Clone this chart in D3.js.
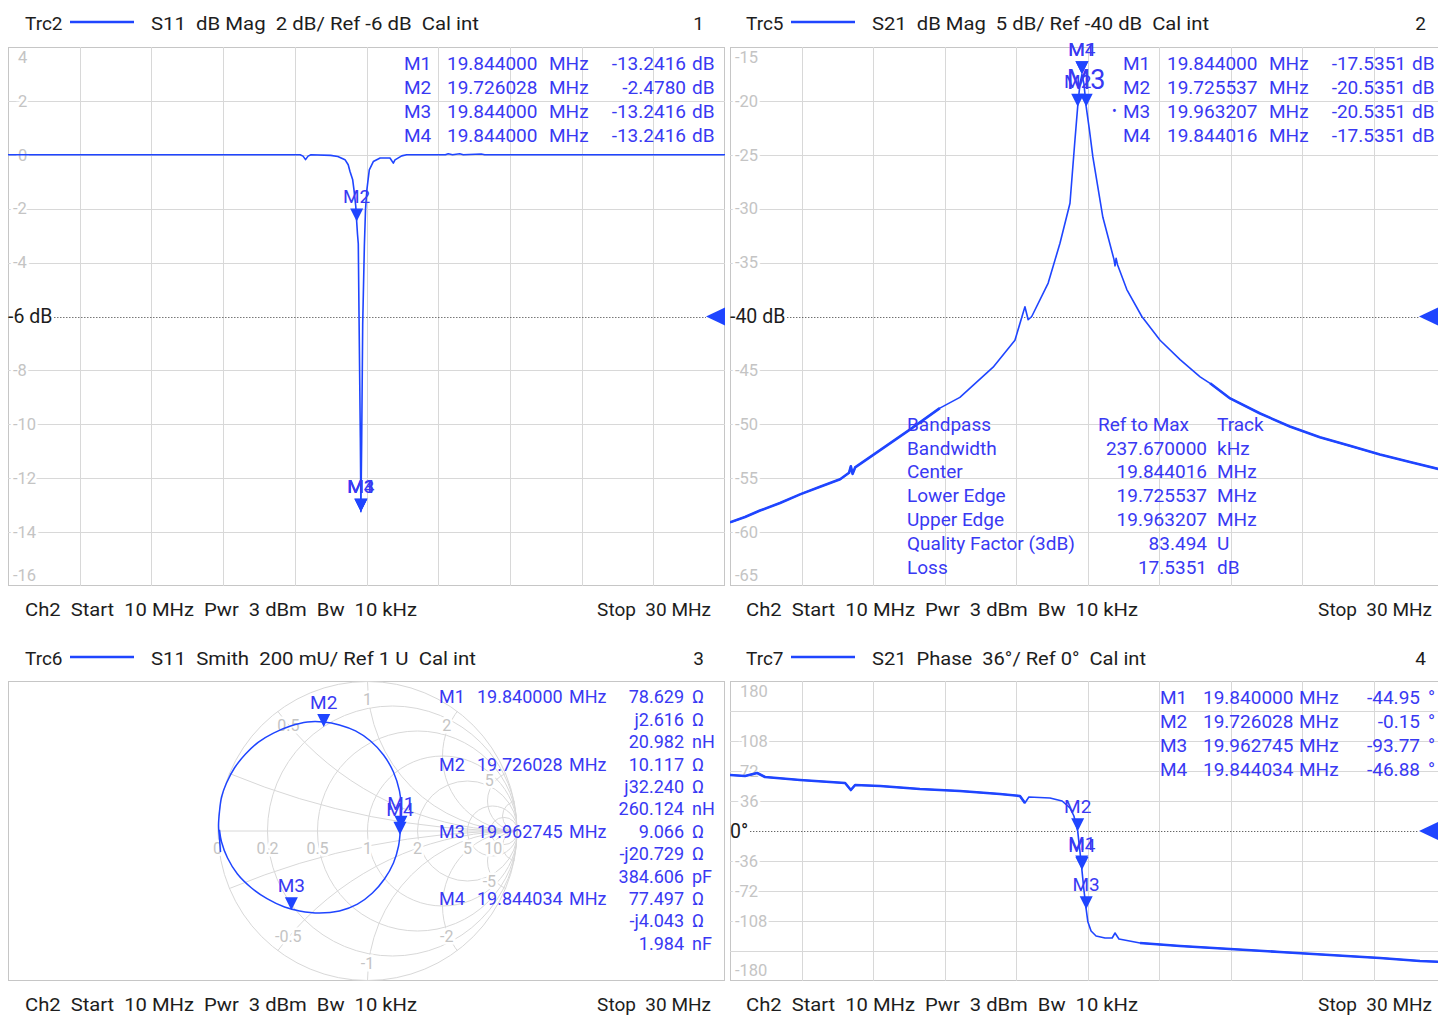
<!DOCTYPE html>
<html>
<head>
<meta charset="utf-8">
<script src="https://cdn.jsdelivr.net/npm/d3@7"></script>
<style>
  body { margin: 0; background: #fff; }
  svg { display: block; }
  text { font-family: Roboto, "Noto Sans", Arial, sans-serif; white-space: pre; }
</style>
</head>
<body>
<svg id="screen" width="1438" height="1016"></svg>
<script>
// ---------------- data ----------------
const sweepStart = 10, sweepStop = 30;               // MHz
const freqGrid = [12, 14, 16, 18, 20, 22, 24, 26, 28];

// Trc2: S11 dB Mag  [MHz, dB]
const s11Trace = [
  [10, 0], [12, 0], [14, 0], [16, 0], [18, 0], [18.15, 0], [18.23, -0.05], [18.30, -0.18], [18.37, -0.05],
  [18.45, 0], [19.00, -0.02], [19.20, -0.06], [19.40, -0.18], [19.49, -0.37], [19.54, -0.62], [19.615, -0.93],
  [19.651, -1.30], [19.700, -1.90], [19.726028, -2.478], [19.749, -2.95], [19.771, -3.30], [19.791, -5.90],
  [19.828, -10.5], [19.844, -13.2416], [19.866, -10.6], [19.894, -6.30], [19.940, -3.40], [19.972, -2.05],
  [20.010, -1.30], [20.078, -0.56], [20.19, -0.25], [20.38, -0.12], [20.655, -0.12], [20.748, -0.31],
  [20.795, -0.19], [20.982, -0.04], [21.12, 0], [22.2, 0], [22.28, 0.04], [22.4, 0], [22.6, 0.04],
  [22.7, 0], [23.2, 0.03], [23.3, 0], [26, 0], [30, 0]
];
const s11Ticks = [4, 2, 0, -2, -4, -8, -10, -12, -14, -16];

// Trc5: S21 dB Mag  [MHz, dB]
const s21Trace = [
  [10, -59.1], [10.42, -58.6], [10.84, -58.0], [11.40, -57.3], [11.96, -56.5], [12.52, -55.8], [13.08, -55.1],
  [13.33, -54.5], [13.38, -53.9], [13.43, -54.6], [13.50, -54.0], [14.20, -52.4], [15.03, -50.5], [15.87, -48.5],
  [16.43, -47.5], [17.36, -44.7], [17.97, -42.2], [18.25, -39.1], [18.34, -40.3], [18.44, -40.0], [18.90, -36.9],
  [19.23, -33.2], [19.51, -29.5], [19.64, -24.0], [19.725537, -20.5351], [19.79, -18.4], [19.844, -17.5351],
  [19.90, -18.4], [19.963207, -20.5351], [20.05, -22.6], [20.15, -25.2], [20.43, -30.8], [20.74, -34.7],
  [20.77, -35.3], [20.80, -34.6], [20.84, -35.2], [21.10, -37.5], [21.52, -40.0], [22.03, -42.2], [22.59, -44.0],
  [23.15, -45.6], [23.43, -46.2], [23.99, -47.6], [24.83, -49.0], [25.66, -50.2], [26.50, -51.2], [27.34, -52.0],
  [28.18, -52.8], [29.02, -53.5], [30, -54.3]
];
const s21Ticks = [-15, -20, -25, -30, -35, -45, -50, -55, -60, -65];

// Trc6: S11 Smith, reflection coefficient [re, im]
const smithTrace = [
  [-0.980, -0.140], [-0.987, -0.047], [-0.993, 0.033], [-0.987, 0.127], [-0.973, 0.227], [-0.940, 0.320],
  [-0.887, 0.420], [-0.813, 0.513], [-0.727, 0.593], [-0.627, 0.653], [-0.513, 0.700], [-0.400, 0.727],
  [-0.293, 0.727], [-0.187, 0.707], [-0.080, 0.667], [0.020, 0.600], [0.107, 0.507], [0.173, 0.393],
  [0.213, 0.267], [0.227, 0.140], [0.220, 0.020], [0.207, -0.100], [0.173, -0.213], [0.113, -0.320],
  [0.033, -0.413], [-0.067, -0.487], [-0.187, -0.533], [-0.320, -0.547], [-0.453, -0.533], [-0.553, -0.507],
  [-0.667, -0.453], [-0.773, -0.380], [-0.867, -0.287], [-0.933, -0.180], [-0.973, -0.073], [-0.987, 0.007]
];
const smithResistance = [0.2, 0.5, 1, 2, 5, 10];
const smithReactance = [0.2, 0.5, 1, 2, 5, 10];
const smithRLabels = ['0', '0.2', '0.5', '1', '2', '5', '10'];
const smithXLabels = [0.5, 1, 2, 5, -0.5, -1, -2, -5];

// Trc7: S21 Phase  [MHz, deg]
const phaseTrace = [
  [10, 67.2], [10.42, 66.0], [10.76, 69.6], [10.98, 64.8], [11.96, 61.2], [13.22, 57.6], [13.38, 49.2],
  [13.50, 55.2], [14.20, 54.0], [15.31, 50.4], [16.43, 48.0], [17.55, 44.4], [18.11, 42.0], [18.25, 33.6],
  [18.36, 40.8], [18.95, 39.6], [19.29, 36.0], [19.51, 27.6], [19.62, 18.0], [19.726028, -0.15],
  [19.79, -25.2], [19.84, -44.95], [19.844034, -46.88], [19.90, -70.8], [19.962745, -93.77], [20.01, -109],
  [20.10, -120], [20.24, -126], [20.49, -128.4], [20.69, -128.4], [20.77, -122.4], [20.88, -129.6],
  [21.47, -134.4], [22.59, -138], [23.99, -141.6], [25.38, -145.2], [26.78, -148.8], [28.18, -152.4],
  [29.30, -156], [30, -157.2]
];
const phaseGrid = [144, 108, 72, 36, -36, -72, -108, -144];
const phaseTicks = [180, 108, 72, 36, -36, -72, -108, -180];

// Frequency spans where the measured traces are visibly noisy (drawn thicker)
const s21NoisySpans = [[10, 16.2], [23.2, 30]];
const phaseNoisySpans = [[10, 18.3], [21.3, 30]];

// Marker readouts
const s11Markers = [
  { name: 'M1', freq: 19.844000, val: -13.2416 },
  { name: 'M2', freq: 19.726028, val: -2.4780 },
  { name: 'M3', freq: 19.844000, val: -13.2416 },
  { name: 'M4', freq: 19.844000, val: -13.2416 }
];
const s21Markers = [
  { name: 'M1', freq: 19.844000, val: -17.5351 },
  { name: 'M2', freq: 19.725537, val: -20.5351 },
  { name: 'M3', freq: 19.963207, val: -20.5351, active: true },
  { name: 'M4', freq: 19.844016, val: -17.5351 }
];
const smithMarkers = [
  { name: 'M1', freq: 19.840000, r: 78.629, x: 2.616, eq: '20.982', eqUnit: 'nH' },
  { name: 'M2', freq: 19.726028, r: 10.117, x: 32.240, eq: '260.124', eqUnit: 'nH' },
  { name: 'M3', freq: 19.962745, r: 9.066, x: -20.729, eq: '384.606', eqUnit: 'pF' },
  { name: 'M4', freq: 19.844034, r: 77.497, x: -4.043, eq: '1.984', eqUnit: 'nF' }
];
const phaseMarkers = [
  { name: 'M1', freq: 19.840000, val: -44.95 },
  { name: 'M2', freq: 19.726028, val: -0.15 },
  { name: 'M3', freq: 19.962745, val: -93.77 },
  { name: 'M4', freq: 19.844034, val: -46.88 }
];
const bandpassRows = [
  ['Bandwidth', '237.670000', 'kHz'],
  ['Center', '19.844016', 'MHz'],
  ['Lower Edge', '19.725537', 'MHz'],
  ['Upper Edge', '19.963207', 'MHz'],
  ['Quality Factor (3dB)', '83.494', 'U'],
  ['Loss', '17.5351', 'dB']
];
const Z0 = 50;

// ---------------- style ----------------
const TRACE = '#1f45ff';
const MARK = '#3939f3';
const GRID = '#d8d8d8';
const BORDER = '#c6c6c6';
const TICK = '#c4c4c4';
const INK = '#1d1d1d';

const svg = d3.select('#screen');
const defs = svg.append('defs');

function txt(g, x, y, s, o = {}) {
  const t = g.append('text')
    .attr('x', x).attr('y', y).attr('dy', '0.35em')
    .attr('font-size', o.size || 19)
    .attr('fill', o.fill || INK)
    .attr('text-anchor', o.anchor || 'start')
    .text(s);
  if (o.width) {
    const w = t.node().getComputedTextLength();
    if (Math.abs(w - o.width) > 1) t.attr('textLength', o.width).attr('lengthAdjust', 'spacingAndGlyphs');
  }
  if (o.halo) t.attr('stroke', '#fff').attr('stroke-width', 5).attr('paint-order', 'stroke');
  return t;
}

function markerGlyph(g, px, py, name, big) {
  g.append('path')
    .attr('d', d3.line()([[px - 6.5, py - 13], [px + 6.5, py - 13], [px, py]]) + 'Z')
    .attr('fill', TRACE);
  txt(g, px, py - 25 - (big ? 2 : 0), name, { size: big ? 27 : 19, fill: MARK, anchor: 'middle' });
}

function header(y, x0, trc, desc, descW, num, numX) {
  const g = svg.append('g');
  txt(g, x0 + 17, y, trc, { size: 19, width: 37 });
  g.append('line').attr('x1', x0 + 62).attr('x2', x0 + 126).attr('y1', y - 1).attr('y2', y - 1)
    .attr('stroke', TRACE).attr('stroke-width', 2.5);
  txt(g, x0 + 143, y, desc, { size: 19, width: descW });
  txt(g, numX, y, num, { size: 19, anchor: 'end' });
}

function footer(y, x0, stopX) {
  const g = svg.append('g');
  txt(g, x0 + 17, y, 'Ch2  Start  10 MHz  Pwr  3 dBm  Bw  10 kHz', { size: 19, width: 392 });
  txt(g, stopX, y, 'Stop  30 MHz', { size: 19, anchor: 'end' });
}

// Cartesian trace diagram with grid, reference line and tick labels
function cartesian(box, id, yDomain, gridVals, tickVals, refVal, refText, refTriX, data, noisy) {
  const g = svg.append('g');
  const x = d3.scaleLinear().domain([sweepStart, sweepStop]).range([box.x0, box.x1]);
  const y = d3.scaleLinear().domain(yDomain).range([box.y1, box.y0]);

  defs.append('clipPath').attr('id', id)
    .append('rect').attr('x', box.x0).attr('y', box.y0)
    .attr('width', box.x1 - box.x0).attr('height', box.y1 - box.y0);

  g.append('rect').attr('x', box.x0 + 0.5).attr('y', box.y0 + 0.5)
    .attr('width', box.x1 - box.x0 - 1).attr('height', box.y1 - box.y0 - 1)
    .attr('fill', '#fff').attr('stroke', BORDER);

  g.selectAll('.vg').data(freqGrid).join('line')
    .attr('x1', d => Math.round(x(d)) + 0.5).attr('x2', d => Math.round(x(d)) + 0.5)
    .attr('y1', box.y0).attr('y2', box.y1).attr('stroke', GRID);
  g.selectAll('.hg').data(gridVals).join('line')
    .attr('x1', box.x0).attr('x2', box.x1)
    .attr('y1', d => Math.round(y(d)) + 0.5).attr('y2', d => Math.round(y(d)) + 0.5)
    .attr('stroke', GRID);

  tickVals.forEach(v => {
    let ty = y(v);
    if (v === yDomain[1]) ty = box.y0 + 10;
    if (v === yDomain[0]) ty = box.y1 - 11;
    txt(g, box.x0 + (v < 0 ? 5 : 10), ty, String(v), { size: 16.5, fill: TICK, halo: true });
  });

  // reference level
  const ry = Math.round(y(refVal)) + 0.5;
  const rt = txt(g, box.x0, y(refVal), refText, { size: 19.5, fill: INK });
  const rw = rt.node().getComputedTextLength();
  g.append('line').attr('x1', box.x0 + rw + 2).attr('x2', refTriX - 19)
    .attr('y1', ry).attr('y2', ry)
    .attr('stroke', '#333').attr('stroke-dasharray', '1,2');
  g.append('path')
    .attr('d', d3.line()([[refTriX - 19, y(refVal)], [refTriX, y(refVal) - 9], [refTriX, y(refVal) + 9]]) + 'Z')
    .attr('fill', TRACE);

  const line = d3.line().x(d => x(d[0])).y(d => y(d[1]));
  const tg = g.append('g').attr('clip-path', `url(#${id})`)
    .attr('fill', 'none').attr('stroke', TRACE).attr('stroke-linejoin', 'round');
  tg.append('path').datum(data).attr('d', line).attr('stroke-width', 1.6);
  (noisy || []).forEach(span => {
    tg.append('path').datum(data.filter(d => d[0] >= span[0] && d[0] <= span[1]))
      .attr('d', line).attr('stroke-width', 2.6);
  });

  return { g, x, y };
}

// ---------------- layout ----------------
const p1 = { x0: 8, x1: 725, y0: 47, y1: 586 };
const p2 = { x0: 730, x1: 1445, y0: 47, y1: 586 };
const p3 = { x0: 8, x1: 725, y0: 681, y1: 981 };
const p4 = { x0: 730, x1: 1445, y0: 681, y1: 981 };

header(23, 8, 'Trc2', 'S11  dB Mag  2 dB/ Ref -6 dB  Cal int', 328, '1', 704);
header(23, 729, 'Trc5', 'S21  dB Mag  5 dB/ Ref -40 dB  Cal int', 337, '2', 1426);
header(658, 8, 'Trc6', 'S11  Smith  200 mU/ Ref 1 U  Cal int', 325, '3', 704);
header(658, 729, 'Trc7', 'S21  Phase  36°/ Ref 0°  Cal int', 274, '4', 1426);
footer(609, 8, 711);
footer(609, 729, 1432);
footer(1004, 8, 711);
footer(1004, 729, 1432);

// ---- Trc2 : S11 dB Mag ----
const c1 = cartesian(p1, 'clip1', [-16, 4], [2, 0, -2, -4, -8, -10, -12, -14],
  s11Ticks, -6, '-6 dB', 725, s11Trace);
s11Markers.forEach(m => markerGlyph(c1.g, c1.x(m.freq), c1.y(m.val), m.name, false));
s11Markers.forEach((m, i) => {
  const ty = 63 + i * 24;
  txt(c1.g, 404, ty, m.name, { fill: MARK });
  txt(c1.g, 447, ty, m.freq.toFixed(6), { fill: MARK });
  txt(c1.g, 549, ty, 'MHz', { fill: MARK });
  txt(c1.g, 686, ty, m.val.toFixed(4), { fill: MARK, anchor: 'end' });
  txt(c1.g, 692, ty, 'dB', { fill: MARK });
});

// ---- Trc5 : S21 dB Mag ----
const c2 = cartesian(p2, 'clip2', [-65, -15], [-20, -25, -30, -35, -45, -50, -55, -60],
  s21Ticks, -40, '-40 dB', 1438, s21Trace, s21NoisySpans);
[1, 3, 0, 2].forEach(i => {
  const m = s21Markers[i];
  markerGlyph(c2.g, c2.x(m.freq), c2.y(m.val), m.name, !!m.active);
});
s21Markers.forEach((m, i) => {
  const ty = 63 + i * 24;
  if (m.active) txt(c2.g, 1112, ty, '•', { fill: MARK, size: 14 });
  txt(c2.g, 1123, ty, m.name, { fill: MARK });
  txt(c2.g, 1167, ty, m.freq.toFixed(6), { fill: MARK });
  txt(c2.g, 1269, ty, 'MHz', { fill: MARK });
  txt(c2.g, 1406, ty, m.val.toFixed(4), { fill: MARK, anchor: 'end' });
  txt(c2.g, 1412, ty, 'dB', { fill: MARK });
});
// bandpass search result
txt(c2.g, 907, 424, 'Bandpass', { fill: MARK });
txt(c2.g, 1098, 424, 'Ref to Max', { fill: MARK });
txt(c2.g, 1217, 424, 'Track', { fill: MARK });
bandpassRows.forEach((r, i) => {
  const ty = 448 + i * 23.8;
  txt(c2.g, 907, ty, r[0], { fill: MARK });
  txt(c2.g, 1207, ty, r[1], { fill: MARK, anchor: 'end' });
  txt(c2.g, 1217, ty, r[2], { fill: MARK });
});

// ---- Trc6 : S11 Smith ----
{
  const g = svg.append('g');
  g.append('rect').attr('x', p3.x0 + 0.5).attr('y', p3.y0 + 0.5)
    .attr('width', p3.x1 - p3.x0 - 1).attr('height', p3.y1 - p3.y0 - 1)
    .attr('fill', '#fff').attr('stroke', BORDER);
  const R = (p3.y1 - p3.y0) / 2;
  const cx = 367.5, cy = (p3.y0 + p3.y1) / 2;
  const sx = d3.scaleLinear().domain([-1, 1]).range([cx - R, cx + R]);
  const sy = d3.scaleLinear().domain([-1, 1]).range([cy + R, cy - R]);
  defs.append('clipPath').attr('id', 'unit')
    .append('circle').attr('cx', cx).attr('cy', cy).attr('r', R);

  const grid = g.append('g').attr('clip-path', 'url(#unit)')
    .attr('fill', 'none').attr('stroke', GRID);
  grid.selectAll('.rc').data(smithResistance).join('circle')
    .attr('cx', r => sx(r / (1 + r))).attr('cy', sy(0))
    .attr('r', r => sx(1 / (1 + r)) - sx(0));
  grid.selectAll('.xc').data(smithReactance.flatMap(v => [v, -v])).join('circle')
    .attr('cx', sx(1)).attr('cy', v => sy(1 / v))
    .attr('r', v => Math.abs(sx(1 / v) - sx(0)));
  grid.append('line').attr('x1', sx(-1)).attr('x2', sx(1))
    .attr('y1', sy(0)).attr('y2', sy(0));
  g.append('circle').attr('cx', cx).attr('cy', cy).attr('r', R - 0.5)
    .attr('fill', 'none').attr('stroke', GRID);

  smithRLabels.forEach(s => {
    const r = +s;
    txt(g, sx((r - 1) / (r + 1)) + (r === 10 ? 3 : 0), sy(0) + 17, s,
      { size: 16, fill: TICK, anchor: 'middle', halo: true });
  });
  smithXLabels.forEach(v => {
    const gx = (v * v - 1) / (v * v + 1), gy = 2 * v / (v * v + 1);
    txt(g, sx(0.88 * gx), sy(0.88 * gy), String(v), { size: 16, fill: TICK, anchor: 'middle', halo: true });
  });

  g.append('path').datum(smithTrace)
    .attr('d', d3.line().x(d => sx(d[0])).y(d => sy(d[1])).curve(d3.curveCatmullRom))
    .attr('fill', 'none').attr('stroke', TRACE).attr('stroke-width', 1.5);

  const gamma = m => {
    const zr = m.r / Z0, zi = m.x / Z0;
    const nr = zr - 1, ni = zi, dr = zr + 1, di = zi, den = dr * dr + di * di;
    return [(nr * dr + ni * di) / den, (ni * dr - nr * di) / den];
  };
  [1, 2, 0, 3].forEach(i => {
    const m = smithMarkers[i], gm = gamma(m);
    markerGlyph(g, sx(gm[0]), sy(gm[1]), m.name, false);
  });

  smithMarkers.forEach((m, i) => {
    const ty = 697 + i * 3 * 22.4;
    const xs = m.x < 0 ? '-j' + Math.abs(m.x).toFixed(3) : 'j' + m.x.toFixed(3);
    txt(g, 439, ty, m.name, { fill: MARK, size: 18 });
    txt(g, 477, ty, m.freq.toFixed(6), { fill: MARK, size: 18 });
    txt(g, 569, ty, 'MHz', { fill: MARK, size: 18 });
    [[m.r.toFixed(3), 'Ω'], [xs, 'Ω'], [m.eq, m.eqUnit]].forEach((row, k) => {
      txt(g, 684, ty + k * 22.4, row[0], { fill: MARK, size: 18, anchor: 'end' });
      txt(g, 692, ty + k * 22.4, row[1], { fill: MARK, size: 18 });
    });
  });
}

// ---- Trc7 : S21 Phase ----
const c4 = cartesian(p4, 'clip4', [-180, 180], phaseGrid,
  phaseTicks, 0, '0°', 1438, phaseTrace, phaseNoisySpans);
[1, 3, 2, 0].forEach(i => {
  const m = phaseMarkers[i];
  markerGlyph(c4.g, c4.x(m.freq), c4.y(m.val), m.name, false);
});
phaseMarkers.forEach((m, i) => {
  const ty = 697 + i * 24;
  txt(c4.g, 1160, ty, m.name, { fill: MARK });
  txt(c4.g, 1203, ty, m.freq.toFixed(6), { fill: MARK });
  txt(c4.g, 1299, ty, 'MHz', { fill: MARK });
  txt(c4.g, 1420, ty, m.val.toFixed(2), { fill: MARK, anchor: 'end' });
  txt(c4.g, 1428, ty, '°', { fill: MARK });
});
</script>
</body>
</html>
